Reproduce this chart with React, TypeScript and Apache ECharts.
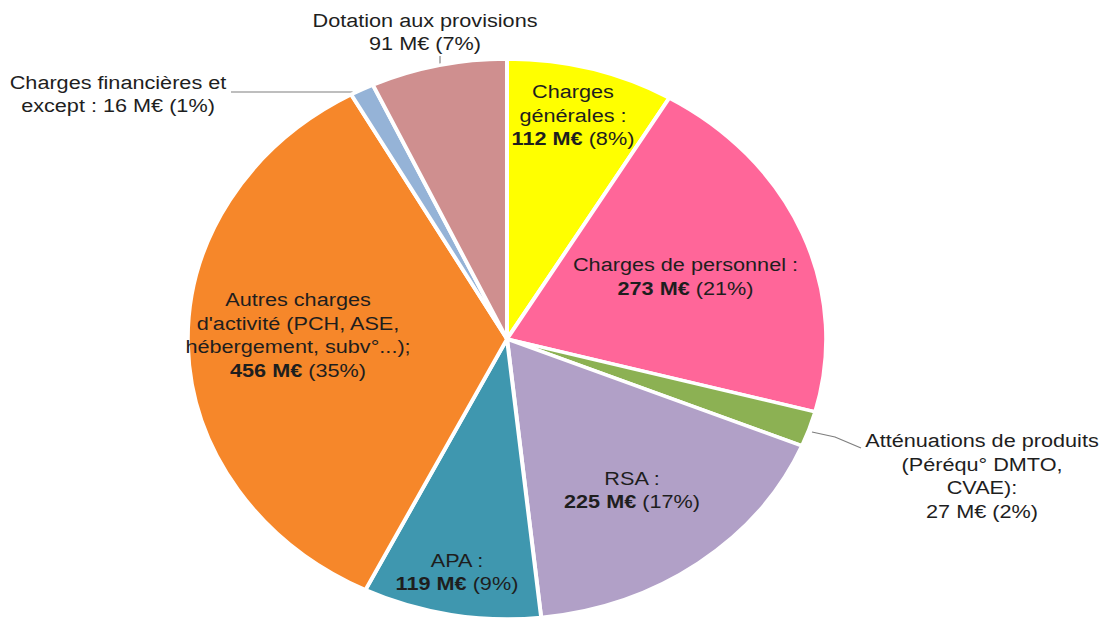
import React, { useEffect, useRef } from "react";
import * as echarts from "echarts";

// ---- Data ----
const categories = [
  "Charges\ngénérales :",
  "Charges de personnel :",
  "Atténuations de produits\n(Péréqu° DMTO,\nCVAE):",
  "RSA :",
  "APA :",
  "Autres charges\nd'activité (PCH, ASE,\nhébergement, subv°...);",
  "Charges financières et\nexcept :",
  "Dotation aux provisions",
];
const values = [112, 273, 27, 225, 119, 456, 16, 91];
const boldValue = [true, true, false, true, true, true, false, false];
const valueOnSameLine = [false, false, false, false, false, false, true, false];
const outsideLabel = [false, false, true, false, false, false, true, true];
const colors = ["#FFFF00", "#FF6699", "#8CB153", "#B1A0C7", "#3F97AF", "#F6872A", "#95B3D7", "#CF8F8F"];

// ---- Layout (positions in unstretched chart coordinates) ----
const SX = 1.14; // horizontal stretch of the reference picture
const W = 1105 / SX;
const H = 622;
const labelPos: [number, number][] = [
  [573 / SX, 115],
  [685.5 / SX, 276.5],
  [982 / SX, 476],
  [632 / SX, 490],
  [457 / SX, 572],
  [298 / SX, 335],
  [118 / SX, 94],
  [425 / SX, 32],
];
const leaderPoints: Record<number, number[][]> = {
  2: [[812 / SX, 432], [835 / SX, 437], [861 / SX, 448]],
  6: [[358 / SX, 96], [352 / SX, 92], [231 / SX, 92]],
  7: [[440 / SX, 67], [440 / SX, 62], [440 / SX, 56]],
};

const FONT = "'Liberation Sans', Arial, Helvetica, sans-serif";

export default function App() {
  const ref = useRef<HTMLDivElement>(null);
  useEffect(() => {
    if (!ref.current) return;
    const chart = echarts.init(ref.current, null, { renderer: "svg" });
    const data = categories.map((name, i) => ({
      name,
      value: values[i],
      itemStyle: { color: colors[i] },
      label: { position: outsideLabel[i] ? "outside" : "inside" },
      labelLine: { show: outsideLabel[i], lineStyle: { color: "#7f7f7f", width: 1 } },
    }));
    chart.setOption({
      animation: false,
      backgroundColor: "#ffffff",
      series: [
        {
          type: "pie",
          center: [507 / SX, 339],
          radius: [0, 280],
          startAngle: 90,
          clockwise: true,
          avoidLabelOverlap: false,
          percentPrecision: 0,
          itemStyle: { borderColor: "#ffffff", borderWidth: 3.5 },
          label: {
            show: true,
            fontFamily: FONT,
            fontSize: 19,
            lineHeight: 23.5,
            color: "#1e1e1e",
            align: "center",
            formatter: (p: any) => {
              const i = p.dataIndex;
              const v = `${values[i]} M€`;
              const vs = boldValue[i] ? `{b|${v}}` : v;
              const sep = valueOnSameLine[i] ? " " : "\n";
              return `${categories[i]}${sep}${vs} (${p.percent}%)`;
            },
            rich: {
              b: {
                fontFamily: FONT,
                fontSize: 19,
                fontWeight: "bold",
                lineHeight: 23.5,
                color: "#1e1e1e",
              },
            },
          },
          labelLine: { show: false },
          labelLayout: (params: any) => {
            const i = params.dataIndex;
            const res: any = {
              x: labelPos[i][0],
              y: labelPos[i][1],
              align: "center",
              verticalAlign: "middle",
              hideOverlap: false,
              moveOverlap: null,
            };
            if (leaderPoints[i]) res.labelLinePoints = leaderPoints[i];
            return res;
          },
          data,
        },
      ],
    });
    return () => chart.dispose();
  }, []);

  return (
    <div
      style={{
        position: "fixed",
        left: 0,
        top: 0,
        width: 1105,
        height: 622,
        overflow: "hidden",
        background: "#ffffff",
      }}
    >
      <div
        ref={ref}
        style={{
          width: W,
          height: H,
          transform: `scaleX(${SX})`,
          transformOrigin: "0 0",
        }}
      />
    </div>
  );
}
